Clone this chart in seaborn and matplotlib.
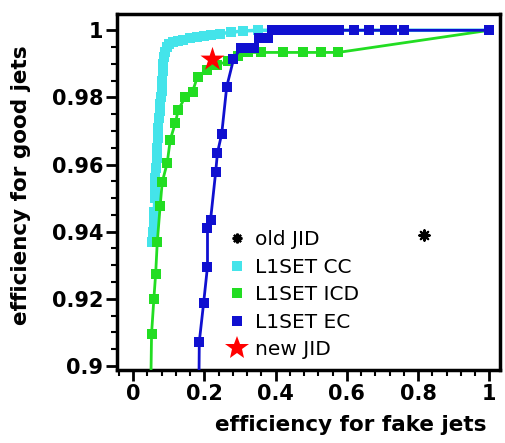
import matplotlib
matplotlib.use("Agg")
import matplotlib.pyplot as plt
import seaborn as sns
import pandas as pd
from matplotlib.lines import Line2D
from matplotlib.ticker import MultipleLocator, FuncFormatter

# ---- data ----
cc_x = [0.053, 0.056, 0.058, 0.060, 0.061, 0.062, 0.063, 0.065, 0.067, 0.068,
        0.069, 0.071, 0.073, 0.075, 0.077, 0.079, 0.081, 0.082, 0.083, 0.085,
        0.087, 0.090, 0.095, 0.100, 0.113, 0.125, 0.140, 0.160, 0.180, 0.200,
        0.220, 0.245, 0.274, 0.310, 0.350, 1.0]
cc_y = [0.937, 0.940, 0.943, 0.946, 0.950, 0.953, 0.956, 0.959, 0.962, 0.965,
        0.968, 0.971, 0.974, 0.976, 0.978, 0.980, 0.982, 0.985, 0.988, 0.990,
        0.992, 0.9935, 0.9950, 0.9960, 0.9965, 0.9968, 0.9972, 0.9976, 0.9979, 0.9982,
        0.9986, 0.9990, 0.9994, 0.9998, 1.0, 1.0]

icd_x = [0.050, 0.052, 0.0585, 0.0635, 0.068, 0.076, 0.082, 0.096, 0.1045, 0.119,
         0.127, 0.147, 0.167, 0.181, 0.209, 0.237, 0.2655, 0.294, 0.322, 0.359,
         0.420, 0.477, 0.528, 0.576, 1.0]
icd_y = [0.895, 0.9096, 0.9200, 0.9275, 0.9368, 0.9475, 0.9548, 0.9605, 0.9674, 0.9725,
         0.9763, 0.9802, 0.9817, 0.9862, 0.9883, 0.9898, 0.9907, 0.9922, 0.9934, 0.9934,
         0.9934, 0.9934, 0.9934, 0.9934, 1.0]

ec_x = [0.185, 0.186, 0.198, 0.209, 0.209, 0.2175, 0.232, 0.237, 0.249, 0.263,
        0.282, 0.302, 0.325, 0.339, 0.353, 0.379, 0.390, 0.410, 0.430, 0.450,
        0.470, 0.490, 0.510, 0.530, 0.556, 0.579, 0.619, 0.661, 0.706, 0.726,
        0.760, 1.0]
ec_y = [0.895, 0.9072, 0.9186, 0.9296, 0.9410, 0.9434, 0.9578, 0.9635, 0.9692, 0.9832,
        0.9913, 0.9946, 0.9946, 0.9946, 0.9976, 0.9976, 1.0, 1.0, 1.0, 1.0,
        1.0, 1.0, 1.0, 1.0, 1.0, 1.0, 1.0, 1.0, 1.0, 1.0,
        1.0, 1.0]

old_jid_x = [0.816]
old_jid_y = [0.939]
new_jid_x = [0.222]
new_jid_y = [0.9913]

labels = ["old JID", "L1SET CC", "L1SET ICD", "L1SET EC", "new JID"]
x_ticks = [0, 0.2, 0.4, 0.6, 0.8, 1]
y_ticks = [0.9, 0.92, 0.94, 0.96, 0.98, 1]

# ---- styling ----
sns.set_style("white")
plt.rcParams['font.family'] = ['DejaVu Sans']
plt.rcParams['text.color'] = 'black'
plt.rcParams['axes.labelcolor'] = 'black'
plt.rcParams['xtick.color'] = 'black'
plt.rcParams['ytick.color'] = 'black'

c_cc = "#44e4ea"
c_icd = "#22dd22"
c_ec = "#1010d0"

fig = plt.figure(figsize=(5.05, 4.43), dpi=100)
ax = fig.add_axes([0.2317, 0.165, 0.7583, 0.803])

df_cc = pd.DataFrame({"x": cc_x, "y": cc_y})
df_icd = pd.DataFrame({"x": icd_x, "y": icd_y})
df_ec = pd.DataFrame({"x": ec_x, "y": ec_y})

sns.lineplot(data=df_cc, x="x", y="y", sort=False, estimator=None, ax=ax,
             color=c_cc, marker="s", markersize=6.5, markeredgewidth=0,
             linewidth=2.5, zorder=2)
sns.lineplot(data=df_icd, x="x", y="y", sort=False, estimator=None, ax=ax,
             color=c_icd, marker="s", markersize=6.5, markeredgewidth=0,
             linewidth=2, zorder=3)
sns.lineplot(data=df_ec, x="x", y="y", sort=False, estimator=None, ax=ax,
             color=c_ec, marker="s", markersize=6.5, markeredgewidth=0,
             linewidth=2, zorder=4)
sns.scatterplot(x=old_jid_x, y=old_jid_y, ax=ax, marker=(8, 2, 0), s=55,
                color="black", linewidth=1.6, zorder=5)
sns.scatterplot(x=new_jid_x, y=new_jid_y, ax=ax, marker="*", s=330,
                color="red", edgecolor="red", linewidth=0, zorder=6)

ax.set_xlim(-0.045, 1.03)
ax.set_ylim(0.8988, 1.0048)
ax.set_xticks(x_ticks)
ax.set_yticks(y_ticks)
ax.xaxis.set_major_formatter(FuncFormatter(lambda v, p: f"{v:g}"))
ax.yaxis.set_major_formatter(FuncFormatter(lambda v, p: f"{v:g}"))
ax.xaxis.set_minor_locator(MultipleLocator(0.04))
ax.yaxis.set_minor_locator(MultipleLocator(0.005))
ax.tick_params(axis="both", which="major", direction="out", length=8, width=2,
               labelsize=15, pad=2, color="black", labelcolor="black",
               bottom=True, left=True)
ax.tick_params(axis="both", which="minor", direction="out", length=4.5, width=1.5,
               color="black", bottom=True, left=True)
for lab in ax.get_xticklabels() + ax.get_yticklabels():
    lab.set_fontweight("bold")
for sp in ax.spines.values():
    sp.set_linewidth(2.5)
    sp.set_color("black")

ax.set_xlabel("efficiency for fake jets", fontsize=15.5, fontweight="bold")
ax.set_ylabel("efficiency for good jets", fontsize=15.5, fontweight="bold")
ax.xaxis.set_label_coords(0.611, -0.128)
ax.xaxis.label.set_va("top")
ax.yaxis.set_label_coords(-0.225, 0.52)

handles = [
    Line2D([], [], linestyle="none", marker=(8, 2, 0), color="black",
           markersize=7, markeredgewidth=1.6),
    Line2D([], [], linestyle="none", marker="s", color=c_cc, markersize=7.5,
           markeredgewidth=0),
    Line2D([], [], linestyle="none", marker="s", color=c_icd, markersize=7.5,
           markeredgewidth=0),
    Line2D([], [], linestyle="none", marker="s", color=c_ec, markersize=7.5,
           markeredgewidth=0),
    Line2D([], [], linestyle="none", marker="*", color="red", markersize=18,
           markeredgewidth=0),
]
ax.legend(handles, labels, loc="upper left", bbox_to_anchor=(0.287, 0.392),
          frameon=False, fontsize=14.5, handlelength=1.0, handletextpad=0.4,
          labelspacing=0.42, borderaxespad=0, borderpad=0)

fig.savefig("out.png", dpi=100)
